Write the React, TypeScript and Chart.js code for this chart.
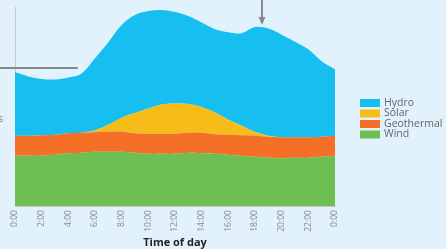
import React, { useEffect, useRef } from "react";
import { Chart, registerables } from "chart.js";

Chart.register(...registerables);

const hours = [0,1,2,3,4,5,6,7,8,9,10,11,12,13,14,15,16,17,18,19,20,21,22,23,24];
const tickHours = [0,2,4,6,8,10,12,14,16,18,20,22,24];
const seriesNames = ["Hydro", "Solar", "Geothermal", "Wind"];
const windValues = [50,50,50,51,52.5,53,54,54,54,53,52,52,52,53,52.5,52,51,50,49,48,47.5,48,48,49,50];
const geothermalValues = [20,20,20.5,20,20,20,19.5,20,20,19.5,20,20,20,20,20.5,19.5,20,20.5,21,21,21,20.5,20.5,20,20];
const solarValues = [0,0,0,0,0,0,2,7,14,20,25,29,30,28.5,25.5,21.5,15,9.5,4,1,0,0,0,0,0];
const hydroValues = [63,59,56,55,55.5,59,71.5,82,92,97.5,97,94,91,87.5,84,83,87,92,104,106.5,102,95,87.5,75,66];
const refLineValue = 137;
const refLineEndHour = 4.7;
const arrowHour = 18.5;
const arrowTipValue = 180;

const colors = { Hydro: "#17bff0", Solar: "#f6bd18", Geothermal: "#f47026", Wind: "#6ebf53" };

const annotations = {
  id: "annotations",
  afterDatasetsDraw(chart: any) {
    const { ctx, scales } = chart;
    const x = scales.x, y = scales.y;
    ctx.save();
    ctx.strokeStyle = "#888888";
    ctx.fillStyle = "#888888";
    ctx.lineWidth = 2;
    const ly = Math.round(y.getPixelForValue(refLineValue));
    ctx.beginPath();
    ctx.moveTo(0, ly);
    ctx.lineTo(x.getPixelForValue(refLineEndHour), ly);
    ctx.stroke();
    const ax = Math.round(x.getPixelForValue(arrowHour));
    const tip = y.getPixelForValue(arrowTipValue);
    ctx.beginPath();
    ctx.moveTo(ax, 0);
    ctx.lineTo(ax, tip - 6);
    ctx.stroke();
    ctx.beginPath();
    ctx.moveTo(ax - 3.5, tip - 8);
    ctx.lineTo(ax + 3.5, tip - 8);
    ctx.lineTo(ax, tip);
    ctx.closePath();
    ctx.fill();
    ctx.font = "10px 'Open Sans'";
    ctx.fillStyle = "#777777";
    ctx.textAlign = "right";
    ctx.textBaseline = "middle";
    ctx.fillText("MWs", 3, y.getPixelForValue(86));
    ctx.restore();
  },
};

const legendPlugin = {
  id: "customLegend",
  afterDraw(chart: any) {
    const { ctx, chartArea } = chart;
    ctx.save();
    const bx = chartArea.right + 25;
    let by = 99;
    ctx.font = "10.5px 'Open Sans'";
    ctx.textBaseline = "middle";
    ctx.textAlign = "left";
    seriesNames.forEach((name) => {
      ctx.fillStyle = (colors as any)[name];
      ctx.fillRect(bx, by, 20, 8);
      ctx.fillStyle = "#666666";
      ctx.fillText(name, bx + 24, by + 4);
      by += 10.5;
    });
    ctx.restore();
  },
};

const bgPlugin = {
  id: "bg",
  beforeDraw(chart: any) {
    const { ctx, width, height } = chart;
    ctx.save();
    ctx.fillStyle = "#e2f2fc";
    ctx.fillRect(0, 0, width, height);
    ctx.restore();
  },
};

export default function App() {
  const ref = useRef<HTMLCanvasElement>(null);
  useEffect(() => {
    document.body.style.margin = "0";
    const toPts = (vals: number[]) => vals.map((v, i) => ({ x: hours[i], y: v }));
    const mk = (name: string, vals: number[], fill: any) => ({
      label: name,
      data: toPts(vals),
      backgroundColor: (colors as any)[name],
      borderColor: (colors as any)[name],
      borderWidth: 0,
      pointRadius: 0,
      tension: 0.35,
      fill,
    });
    const chart = new Chart(ref.current!, {
      type: "line",
      data: {
        datasets: [
          mk("Wind", windValues, "origin"),
          mk("Geothermal", geothermalValues, "-1"),
          mk("Solar", solarValues, "-1"),
          mk("Hydro", hydroValues, "-1"),
        ],
      },
      options: {
        animation: false,
        responsive: false,
        layout: { padding: { left: 15, right: 111, top: 7, bottom: 0 } },
        plugins: { legend: { display: false }, tooltip: { enabled: false } },
        scales: {
          x: {
            type: "linear",
            min: 0,
            max: 24,
            grid: { display: false, drawTicks: false },
            border: { display: true, color: "#c8c8c8", width: 1 },
            afterBuildTicks: (axis: any) => {
              axis.ticks = tickHours.map((h) => ({ value: h }));
            },
            ticks: {
              autoSkip: false,
              maxRotation: 90,
              minRotation: 90,
              padding: 4,
              color: "#888888",
              font: { family: "'Open Sans'", size: 8.5 },
              callback: (v: any) => `${Number(v) % 24}:00`,
            },
            title: {
              display: true,
              text: "Time of day",
              color: "#222222",
              font: { family: "'Open Sans'", size: 11, weight: "bold" },
              padding: { top: 0, bottom: 0 },
            },
          },
          y: {
            stacked: true,
            min: 0,
            max: 198,
            grid: { display: false, drawTicks: false },
            border: { display: true, color: "#c8c8c8", width: 1 },
            ticks: { display: false },
          },
        },
      },
      plugins: [bgPlugin, annotations, legendPlugin],
    });
    return () => chart.destroy();
  }, []);
  return (
    <div style={{ width: 446, height: 249 }}>
      <canvas ref={ref} width={446} height={249} style={{ display: "block" }} />
    </div>
  );
}
